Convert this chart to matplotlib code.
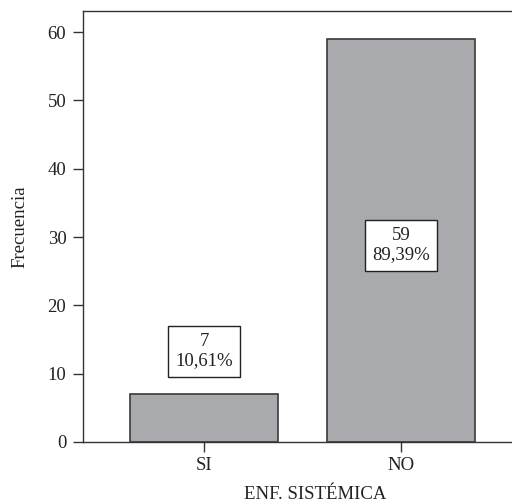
import matplotlib
matplotlib.use("Agg")
import matplotlib.pyplot as plt

categorias = ["SI", "NO"]
frecuencias = [7, 59]
porcentajes = ["10,61%", "89,39%"]
pos_etiqueta = [13.3, 28.8]

plt.rcParams['font.family'] = ['Liberation Serif', 'DejaVu Serif']

fig = plt.figure(figsize=(5.12, 5.03), dpi=100)
ax = fig.add_axes([83 / 512, 1 - 442 / 503, 1 - 83 / 512, (442 - 11) / 503])

x = list(range(len(categorias)))
ax.bar(x, frecuencias, width=0.75, color='#a9aaae', edgecolor='#3a3a3a', linewidth=1.2)

for xi, f, p, yl in zip(x, frecuencias, porcentajes, pos_etiqueta):
    ax.text(xi, yl, f"{f}\n{p}", ha='center', va='center', fontsize=13.5,
            linespacing=1.15, color='#222222',
            bbox=dict(facecolor='white', edgecolor='#222222', linewidth=1.0,
                      boxstyle='square,pad=0.4'))

ax.set_xlim(-0.614, 1.563)
ax.set_ylim(0, 63.1)
ax.set_xticks(x)
ax.set_xticklabels(categorias)
ax.set_yticks([0, 10, 20, 30, 40, 50, 60])
ax.tick_params(axis='both', labelsize=13.5, length=7, width=1.0, color='#333333', labelcolor='#222222')
ax.tick_params(axis='y', pad=5)
ax.tick_params(axis='x', pad=4)
ax.spines['right'].set_visible(False)
for s in ['left', 'top', 'bottom']:
    ax.spines[s].set_color('#333333')
    ax.spines[s].set_linewidth(1.0)

ax.set_ylabel("Frecuencia", fontsize=13.5, color='#222222')
ax.yaxis.set_label_coords(-(83 - 28) / 429, 0.5)
ax.set_xlabel("ENF. SISTÉMICA", fontsize=13.5, color='#222222')
ax.xaxis.set_label_coords((315 - 83) / 429, -(486 - 442) / 431)

fig.savefig("out.png", dpi=100)
